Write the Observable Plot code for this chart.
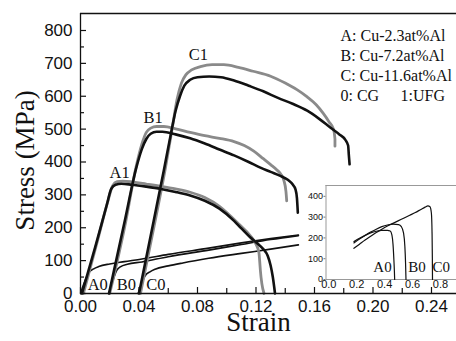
<!DOCTYPE html>
<html><head><meta charset="utf-8">
<script src="https://cdn.jsdelivr.net/npm/d3@7"></script>
<script src="https://cdn.jsdelivr.net/npm/@observablehq/plot@0.6"></script>
<style>
body{margin:0;background:#fff;}
#wrap{position:relative;width:456px;height:341px;overflow:hidden;}
#inset{position:absolute;left:300px;top:180px;}
</style></head><body><div id="wrap"><div id="main"></div><div id="inset"></div></div>
<script>
// ---- main panel data: [strain, stress MPa] ----
const A0 = [[0,0],[0.003,38],[0.0057,64],[0.009,75],[0.0125,82],[0.02,90],[0.03,97],[0.042,105],[0.06,119],[0.0877,138],[0.11,154],[0.13,167],[0.149,178]];
const B0 = [[0.0194,0],[0.0222,40],[0.0248,70],[0.0275,82],[0.032,89],[0.042,96],[0.06,112],[0.0877,132],[0.11,149],[0.13,164],[0.149,176]];
const C0 = [[0.0394,0],[0.0418,30],[0.0442,54],[0.0475,66],[0.051,74],[0.06,84],[0.07,93],[0.0877,107],[0.11,122],[0.13,135],[0.149,148]];
const A1black = [[0.001,0],[0.010,140],[0.018,270],[0.021,318],[0.024,331],[0.028,334],[0.035,331],[0.045,325],[0.055,318],[0.065,309],[0.075,298],[0.085,282],[0.095,258],[0.105,221],[0.110,198],[0.116,171],[0.121,152],[0.125,135],[0.128,115],[0.130,85],[0.1315,50],[0.133,0]];
const A1gray = [[0.002,0],[0.011,150],[0.019,285],[0.022,328],[0.025,340],[0.029,342],[0.036,339],[0.045,333],[0.055,326],[0.065,318],[0.075,308],[0.085,292],[0.095,265],[0.100,246],[0.108,212],[0.116,176],[0.120,150],[0.122,125],[0.1225,100],[0.123,70],[0.124,30],[0.1255,0]];
const B1black = [[0.0195,0],[0.030,215],[0.038,380],[0.042,440],[0.045,470],[0.048,486],[0.052,492],[0.056,492],[0.065,484],[0.075,472],[0.085,456],[0.095,438],[0.105,420],[0.115,400],[0.123,383],[0.130,370],[0.137,357],[0.142,345],[0.145,332],[0.147,317],[0.148,290],[0.1486,246]];
const B1gray = [[0.020,0],[0.031,220],[0.038,385],[0.042,455],[0.045,490],[0.048,503],[0.052,508],[0.057,508],[0.065,501],[0.075,490],[0.085,480],[0.095,472],[0.105,462],[0.112,450],[0.1185,433],[0.125,410],[0.130,392],[0.1345,375],[0.137,363],[0.139,345],[0.1405,310],[0.141,282]];
const C1black = [[0.040,0],[0.050,220],[0.057,375],[0.062,490],[0.065,555],[0.068,600],[0.071,632],[0.075,650],[0.080,658],[0.088,660],[0.096,658],[0.105,648],[0.115,632],[0.125,615],[0.135,595],[0.145,577],[0.155,556],[0.163,532],[0.171,504],[0.177,484],[0.181,468],[0.183,450],[0.1835,420],[0.184,393]];
const C1gray = [[0.041,0],[0.051,220],[0.058,380],[0.063,510],[0.066,590],[0.069,640],[0.072,665],[0.076,680],[0.082,690],[0.090,696],[0.098,696],[0.108,688],[0.118,676],[0.130,661],[0.140,640],[0.148,620],[0.155,598],[0.161,575],[0.166,548],[0.170,522],[0.173,500],[0.174,470],[0.174,448]];

// ---- inset data (coarse-grained full curves) ----
const A0inset = [[0.18,182],[0.22,198],[0.26,212],[0.30,224],[0.34,232],[0.38,236],[0.42,236],[0.44,233],[0.452,215],[0.46,170],[0.466,100],[0.47,40],[0.472,0]];
const B0inset = [[0.18,176],[0.22,195],[0.26,212],[0.30,228],[0.34,242],[0.38,254],[0.42,262],[0.46,266],[0.50,264],[0.52,254],[0.535,225],[0.545,160],[0.55,80],[0.553,0]];
const C0inset = [[0.18,150],[0.22,170],[0.26,190],[0.30,208],[0.34,226],[0.38,242],[0.42,257],[0.46,270],[0.50,283],[0.54,296],[0.58,309],[0.62,322],[0.66,337],[0.69,348],[0.71,354],[0.725,350],[0.735,320],[0.74,220],[0.742,100],[0.743,0]];

// ---- ticks and labels ----
const xMajor = [0, 0.04, 0.08, 0.12, 0.16, 0.20, 0.24];
const xMinor = [0.02, 0.06, 0.10, 0.14, 0.18, 0.22];
const yMajor = [0, 100, 200, 300, 400, 500, 600, 700, 800];
const yMinor = [50, 150, 250, 350, 450, 550, 650, 750];
const insetXTicks = [0, 0.2, 0.4, 0.6, 0.8];
const insetYTicks = [0, 100, 200, 300, 400];
const curveLabels = [
  {t:"A0", s:0.0118, v:26}, {t:"B0", s:0.0313, v:26}, {t:"C0", s:0.0515, v:26},
  {t:"A1", s:0.0268, v:366}, {t:"B1", s:0.0496, v:534}, {t:"C1", s:0.0806, v:725}
];
const insetLabels = [{t:"A0", e:0.385, v:57}, {t:"B0", e:0.632, v:57}, {t:"C0", e:0.805, v:57}];
const legendLines = ["A: Cu-2.3at%Al", "B: Cu-7.2at%Al", "C: Cu-11.6at%Al", "0: CG"];
const legendExtra = "1:UFG";

const SERIF = "Liberation Serif, Times New Roman, serif";
const SANS = "Liberation Sans, Arial, sans-serif";
const GRAY = "#8a8a8a", BLACK = "#111";

const curves = [
  {pts:A0, c:BLACK, w:1.6}, {pts:B0, c:BLACK, w:1.6}, {pts:C0, c:BLACK, w:1.6},
  {pts:A1gray, c:GRAY, w:2.8}, {pts:B1gray, c:GRAY, w:2.8}, {pts:C1gray, c:GRAY, w:2.8},
  {pts:A1black, c:BLACK, w:2.6}, {pts:B1black, c:BLACK, w:2.6}, {pts:C1black, c:BLACK, w:2.6}
];

const main = Plot.plot({
  width: 456, height: 341,
  marginLeft: 80, marginRight: 0, marginTop: 13, marginBottom: 48,
  style: {fontFamily: SANS, fontSize: "17px", background: "white", color: "#111"},
  x: {domain: [0, 0.2571], ticks: xMajor, tickFormat: d3.format(".2f"), tickSize: 0, tickPadding: 6, label: null},
  y: {domain: [0, 851.7], ticks: yMajor, tickSize: 0, tickPadding: 8, label: null},
  marks: [
    ...curves.map(c => Plot.line(c.pts, {x: d => d[0], y: d => d[1], stroke: c.c, strokeWidth: c.w, curve: "monotone-x"})),
    Plot.ruleX([0], {stroke: "#111", strokeWidth: 1.3}),
    Plot.ruleY([0], {stroke: "#111", strokeWidth: 1.3}),
    Plot.ruleY([851.7], {stroke: "#111", strokeWidth: 1.3}),
    Plot.tickX(xMajor, {x: d => d, insetTop: 274, stroke: "#111", strokeWidth: 1.2}),
    Plot.tickX(xMinor, {x: d => d, insetTop: 275, stroke: "#111", strokeWidth: 1.2}),
    Plot.tickY(yMajor, {y: d => d, insetRight: 370, stroke: "#111", strokeWidth: 1.2}),
    Plot.tickY(yMinor, {y: d => d, insetRight: 372, stroke: "#111", strokeWidth: 1.2}),
    Plot.text(curveLabels, {x: "s", y: "v", text: "t", fontFamily: SERIF, fontSize: 16.5, fill: "#111"}),
    ...legendLines.map((t, i) => Plot.text([t], {text: d => d, frameAnchor: "top-left", dx: 260, dy: 22.5 + 20 * i, textAnchor: "start", lineAnchor: "middle", fontFamily: SERIF, fontSize: 16, fill: "#111"})),
    Plot.text([legendExtra], {text: d => d, frameAnchor: "top-left", dx: 320, dy: 82.5, textAnchor: "start", lineAnchor: "middle", fontFamily: SERIF, fontSize: 16, fill: "#111"}),
    Plot.text(["Stress (MPa)"], {text: d => d, frameAnchor: "left", dx: -55, dy: 7, rotate: -90, textAnchor: "middle", lineAnchor: "middle", fontFamily: SERIF, fontSize: 27, fill: "#111"}),
    Plot.text(["Strain"], {text: d => d, frameAnchor: "bottom", dx: -10, dy: 29, textAnchor: "middle", lineAnchor: "middle", fontFamily: SERIF, fontSize: 27, fill: "#111"})
  ]
});
document.getElementById("main").appendChild(main);

const inset = Plot.plot({
  width: 156, height: 115,
  marginLeft: 25.5, marginRight: 0, marginTop: 5, marginBottom: 16,
  style: {fontFamily: SANS, background: "transparent", color: "#111"},
  x: {domain: [-0.02, 0.915], label: null},
  y: {domain: [0, 452], label: null},
  marks: [
    Plot.frame({fill: "white", stroke: "none"}),
    Plot.axisX(insetXTicks, {tickSize: 0, tickPadding: 1, tickFormat: d3.format(".1f"), fontSize: 11, label: null}),
    Plot.axisY(insetYTicks, {tickSize: 2, tickPadding: 1, fontSize: 9, label: null, stroke: "#777"}),
    Plot.ruleX([-0.02], {stroke: "#999", strokeWidth: 1}),
    Plot.ruleY([452], {stroke: "#999", strokeWidth: 1}),
    Plot.ruleY([0], {stroke: "#999", strokeWidth: 1}),
    ...[A0inset, B0inset, C0inset].map(p => Plot.line(p, {x: d => d[0], y: d => d[1], stroke: "#111", strokeWidth: 1.2, curve: "monotone-x"})),
    Plot.text(insetLabels, {x: "e", y: "v", text: "t", fontFamily: SERIF, fontSize: 15, fill: "#111"})
  ]
});
document.getElementById("inset").appendChild(inset);
</script></body></html>
